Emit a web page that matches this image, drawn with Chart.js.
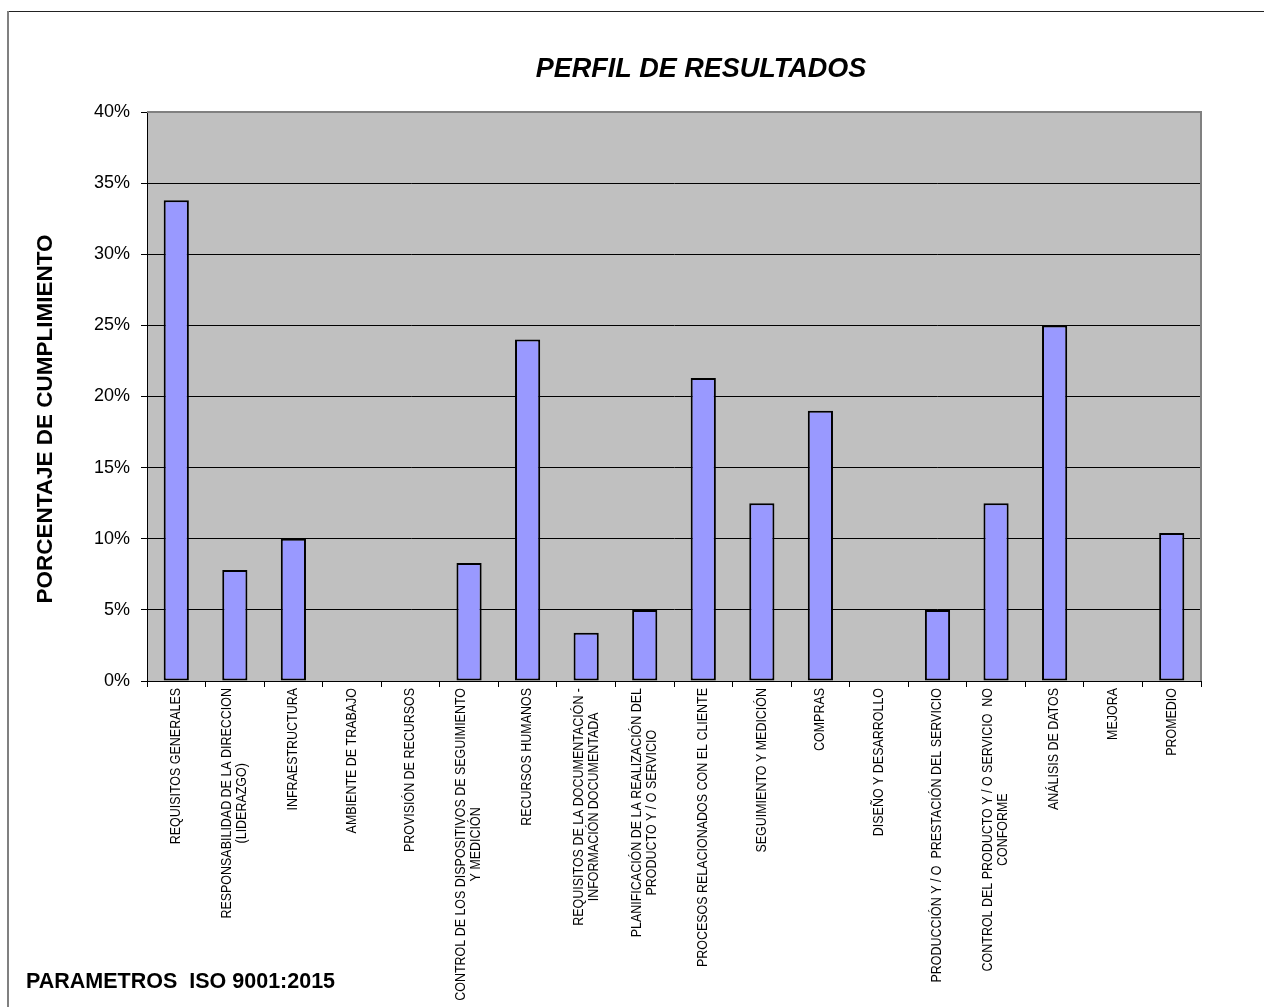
<!DOCTYPE html>
<html lang="es">
  <head>
    <meta charset="UTF-8" />
    <title>Perfil de resultados</title>
    <script src="https://cdn.jsdelivr.net/npm/chart.js"></script>
    <style>
      body {
        margin: 0;
        background: #fff;
      }
    </style>
  </head>
  <body>
    <canvas id="myChart" width="1264" height="1007"></canvas>
  </body>
</html>

<script>
  // categorias (cada una es un array de lineas)
  const categorias = [
    ["REQUISITOS GENERALES"],
    ["RESPONSABILIDAD DE LA DIRECCION", "(LIDERAZGO)"],
    ["INFRAESTRUCTURA"],
    ["AMBIENTE DE TRABAJO"],
    ["PROVISIÓN DE RECURSOS"],
    ["CONTROL DE LOS DISPOSITIVOS DE SEGUIMIENTO", "Y MEDICIÓN"],
    ["RECURSOS HUMANOS"],
    ["REQUISITOS DE LA DOCUMENTACIÓN -", "INFORMACIÓN DOCUMENTADA"],
    ["PLANIFICACIÓN DE LA REALIZACIÓN DEL", "PRODUCTO Y / O SERVICIO"],
    ["PROCESOS RELACIONADOS CON EL CLIENTE"],
    ["SEGUIMIENTO Y MEDICIÓN"],
    ["COMPRAS"],
    ["DISEÑO Y DESARROLLO"],
    ["PRODUCCIÓN Y / O  PRESTACIÓN DEL SERVICIO"],
    ["CONTROL DEL PRODUCTO Y / O SERVICIO  NO", "CONFORME"],
    ["ANÁLISIS DE DATOS"],
    ["MEJORA"],
    ["PROMEDIO"],
  ];

  // porcentaje de cumplimiento (%)
  const cumplimiento = [
    33.8, 7.8, 10, 0, 0, 8.3, 24, 3.4, 5, 21.3, 12.5, 19, 0, 5, 12.5, 25, 0, 10.4,
  ];

  const yMax = 40;
  const yPaso = 5;

  const tituloGrafico = "PERFIL DE RESULTADOS";
  const tituloEjeY = "PORCENTAJE DE CUMPLIMIENTO";
  const pie = "PARAMETROS  ISO 9001:2015";

  const fuente = "'Liberation Sans', Arial, sans-serif";
  Chart.defaults.font.family = fuente;
  Chart.defaults.color = "#000";

  const decor = {
    id: "decor",
    beforeDraw(chart) {
      const { ctx, chartArea: a } = chart;
      ctx.save();
      ctx.fillStyle = "#fff";
      ctx.fillRect(0, 0, chart.width, chart.height);
      ctx.fillStyle = "#C0C0C0";
      ctx.fillRect(a.left, a.top, a.right - a.left, a.bottom - a.top);

      // marco exterior
      ctx.strokeStyle = "#222";
      ctx.lineWidth = 1;
      ctx.beginPath();
      ctx.moveTo(8, 11.5);
      ctx.lineTo(chart.width, 11.5);
      ctx.stroke();
      ctx.strokeStyle = "#808080";
      ctx.lineWidth = 2;
      ctx.beginPath();
      ctx.moveTo(8, 11);
      ctx.lineTo(8, chart.height);
      ctx.stroke();
      ctx.restore();
    },
    afterDraw(chart) {
      const { ctx, chartArea: a } = chart;
      const xs = chart.scales.x;
      ctx.save();

      // borde gris del area de trazado
      ctx.strokeStyle = "#808080";
      ctx.lineWidth = 2;
      ctx.beginPath();
      ctx.moveTo(a.left, a.top);
      ctx.lineTo(a.right, a.top);
      ctx.lineTo(a.right, a.bottom);
      ctx.stroke();

      ctx.fillStyle = "#000";

      // titulo
      ctx.font = "italic bold 27px " + fuente;
      ctx.textAlign = "center";
      ctx.textBaseline = "middle";
      ctx.fillText(tituloGrafico, 701, 70);

      // titulo eje y
      ctx.save();
      ctx.translate(46, 419);
      ctx.rotate(-Math.PI / 2);
      ctx.font = "bold 22.5px " + fuente;
      ctx.fillText(tituloEjeY, 0, 0);
      ctx.restore();

      // pie
      ctx.font = "bold 21.5px " + fuente;
      ctx.textAlign = "left";
      ctx.fillText(pie, 26, 982);

      // etiquetas eje x (giradas, lineas centradas)
      const cond = 0.89;
      const lh = 15;
      ctx.font = "14px " + fuente;
      categorias.forEach((lineas, i) => {
        const x = xs.getPixelForValue(i);
        const anchos = lineas.map((t) => ctx.measureText(t).width * cond);
        const maxW = Math.max(...anchos);
        ctx.save();
        ctx.translate(x, a.bottom + 7);
        ctx.rotate(-Math.PI / 2);
        ctx.textAlign = "center";
        ctx.textBaseline = "middle";
        lineas.forEach((t, j) => {
          const dy = (j - (lineas.length - 1) / 2) * lh;
          ctx.fillText(t, -maxW / 2, dy, anchos[j]);
        });
        ctx.restore();
      });

      ctx.restore();
    },
  };

  let ctx = document.getElementById("myChart");

  let chart = new Chart(ctx, {
    type: "bar",
    data: {
      labels: categorias.map((c) => c.join(" ")),
      datasets: [
        {
          data: cumplimiento,
          backgroundColor: "#9999FF",
          borderColor: "#000",
          borderWidth: 2,
          borderSkipped: false,
          categoryPercentage: 1,
          barPercentage: 0.43,
        },
      ],
    },
    options: {
      responsive: false,
      animation: false,
      events: [],
      layout: {
        padding: { top: 112, right: 63, left: 0, bottom: 0 },
      },
      plugins: {
        legend: { display: false },
        tooltip: { enabled: false },
      },
      scales: {
        x: {
          afterFit: (s) => {
            s.height = 326;
          },
          ticks: { display: false },
          grid: {
            offset: true,
            drawOnChartArea: false,
            drawTicks: true,
            tickLength: 6,
            color: "#000",
          },
          border: { color: "#000", width: 1 },
        },
        y: {
          min: 0,
          max: yMax,
          afterFit: (s) => {
            s.width = 147;
          },
          ticks: {
            stepSize: yPaso,
            padding: 11,
            font: { size: 18 },
            callback: (v) => v + "%",
          },
          grid: {
            color: "#000",
            lineWidth: 1,
            drawTicks: true,
            tickLength: 6,
          },
          border: { color: "#000", width: 1 },
        },
      },
    },
    plugins: [decor],
  });
</script>
